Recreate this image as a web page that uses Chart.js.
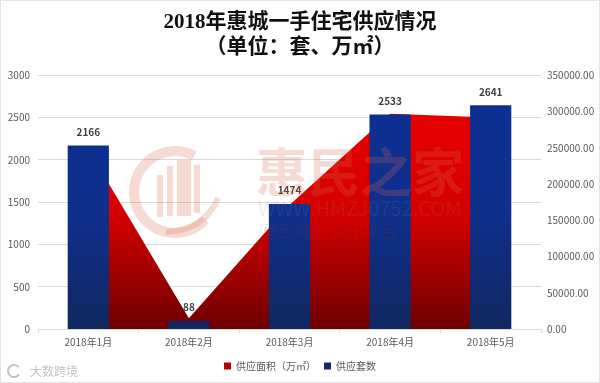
<!DOCTYPE html>
<html>
<head>
<meta charset="utf-8">
<style>
  html, body { margin: 0; padding: 0; background: #fff; }
  #wrap { width: 600px; height: 383px; position: relative; }
</style>
<script src="https://cdn.jsdelivr.net/npm/chart.js@4"></script>
</head>
<body>
<div id="wrap"><canvas id="myChart" width="600" height="383"></canvas></div>
<script>
const categories = ['2018年1月', '2018年2月', '2018年3月', '2018年4月', '2018年5月'];
const supplyArea = [248000, 15000, 171000, 297000, 292000];
const supplyUnits = [2166, 88, 1474, 2533, 2641];
const cjk = '"Noto Sans CJK SC", "Noto Sans", sans-serif';

function vGrad(chart, top, mid, bottom, fallback) {
  const area = chart.chartArea;
  if (!area) return fallback;
  const g = chart.ctx.createLinearGradient(0, area.top, 0, area.bottom);
  g.addColorStop(0, top);
  g.addColorStop(0.55, mid);
  g.addColorStop(1, bottom);
  return g;
}

const barLabels = {
  id: 'barLabels',
  afterDatasetsDraw(chart) {
    const ctx = chart.ctx;
    const bars = chart.getDatasetMeta(1).data;
    ctx.save();
    ctx.font = 'bold 10px ' + cjk;
    ctx.fillStyle = '#404040';
    ctx.textAlign = 'center';
    ctx.textBaseline = 'middle';
    bars.forEach((b, i) => ctx.fillText(supplyUnits[i], b.x, b.y - 14));
    ctx.restore();
  }
};

// faint site watermark over the plot, and the small one in the corner
const watermark = {
  id: 'watermark',
  afterDatasetsDraw(chart) {
    const ctx = chart.ctx;
    ctx.save();
    ctx.globalAlpha = 0.24;
    ctx.strokeStyle = '#d9694a';
    ctx.fillStyle = '#d9694a';
    ctx.lineWidth = 10;
    ctx.beginPath();
    ctx.arc(175, 192, 41, 0.75, 5.2);
    ctx.stroke();
    ctx.fillRect(157, 175, 6, 42);
    ctx.fillRect(167, 166, 6, 50);
    ctx.fillRect(177, 160, 14, 56);
    ctx.fillRect(194, 165, 6, 48);
    ctx.lineWidth = 6;
    ctx.beginPath();
    ctx.moveTo(166, 232);
    ctx.quadraticCurveTo(205, 230, 218, 198);
    ctx.stroke();
    ctx.font = 'bold 52px ' + cjk;
    ctx.textAlign = 'left';
    ctx.textBaseline = 'middle';
    ctx.fillText('惠民之家', 256, 172);
    ctx.globalAlpha = 0.14;
    ctx.font = '20px ' + cjk;
    ctx.fillStyle = '#888888';
    ctx.fillText('WWW.HMZJ0752.COM', 258, 208);
    ctx.font = '17px ' + cjk;
    ctx.fillStyle = '#b03020';
    ctx.fillText('惠民地产资讯平台', 262, 232);
    ctx.restore();
  },
  afterDraw(chart) {
    const ctx = chart.ctx;
    ctx.save();
    ctx.strokeStyle = '#e4e4e4';
    ctx.lineWidth = 1;
    ctx.strokeRect(0.5, 0.5, 599, 382);
    ctx.fillStyle = '#c4c4c4';
    ctx.font = '12px ' + cjk;
    ctx.textBaseline = 'middle';
    ctx.fillText('大数跨境', 30, 371);
    ctx.strokeStyle = '#c4c4c4';
    ctx.lineWidth = 2;
    ctx.beginPath();
    ctx.arc(14, 371, 6, 0.6, 5.6);
    ctx.stroke();
    ctx.restore();
  }
};

new Chart(document.getElementById('myChart').getContext('2d'), {
  data: {
    labels: categories,
    datasets: [
      {
        type: 'line',
        label: '供应面积（万㎡）',
        data: supplyArea,
        yAxisID: 'yArea',
        order: 2,
        fill: 'origin',
        tension: 0,
        pointRadius: 0,
        borderWidth: 0,
        backgroundColor: c => vGrad(c.chart, '#ee0000', '#d40000', '#6e0000', '#c00000')
      },
      {
        type: 'bar',
        label: '供应套数',
        data: supplyUnits,
        yAxisID: 'yUnits',
        order: 1,
        barPercentage: 0.4,
        categoryPercentage: 1,
        inflateAmount: 0.5,
        backgroundColor: c => vGrad(c.chart, '#0c2f93', '#0f2f8c', '#10275f', '#12296e')
      }
    ]
  },
  options: {
    responsive: false,
    animation: false,
    layout: { padding: { top: 6, bottom: 2, left: 0, right: 0 } },
    plugins: {
      title: {
        display: true,
        text: ['2018年惠城一手住宅供应情况', '（单位：套、万㎡）'],
        color: '#111111',
        font: { family: '"Liberation Serif", "Noto Sans CJK SC", serif', size: 21, weight: 'bold', lineHeight: 1.2 },
        padding: { top: 4, bottom: 15 }
      },
      legend: {
        position: 'bottom',
        labels: {
          color: '#595959',
          font: { family: cjk, size: 10 },
          usePointStyle: true,
          pointStyle: 'rect',
          boxWidth: 7,
          boxHeight: 7,
          padding: 8,
          generateLabels(chart) {
            const items = Chart.defaults.plugins.legend.labels.generateLabels(chart);
            items.forEach(it => { it.fillStyle = it.datasetIndex === 0 ? '#b00000' : '#12296e'; it.lineWidth = 0; });
            return items.sort((a, b) => a.datasetIndex - b.datasetIndex);
          }
        }
      },
      tooltip: { enabled: false }
    },
    scales: {
      x: {
        afterFit: s => { s.height = 24; },
        grid: { display: true, drawOnChartArea: false, color: '#d9d9d9', tickLength: 4, offset: true },
        border: { color: '#d9d9d9' },
        ticks: { color: '#595959', font: { family: cjk, size: 10 }, padding: 3, maxRotation: 0 }
      },
      yUnits: {
        position: 'left',
        min: 0,
        max: 3000,
        afterFit: s => { s.width = 38; },
        grid: { color: '#d9d9d9', drawTicks: false },
        border: { display: false },
        ticks: { stepSize: 500, color: '#595959', font: { family: cjk, size: 10 }, padding: 8, callback: v => String(v) }
      },
      yArea: {
        position: 'right',
        min: 0,
        max: 350000,
        afterFit: s => { s.width = 59; },
        grid: { display: false, drawTicks: false },
        border: { display: false },
        ticks: { stepSize: 50000, color: '#595959', font: { family: cjk, size: 10 }, padding: 6, callback: v => v.toFixed(2) }
      }
    }
  },
  plugins: [barLabels, watermark]
});
</script>
</body>
</html>
